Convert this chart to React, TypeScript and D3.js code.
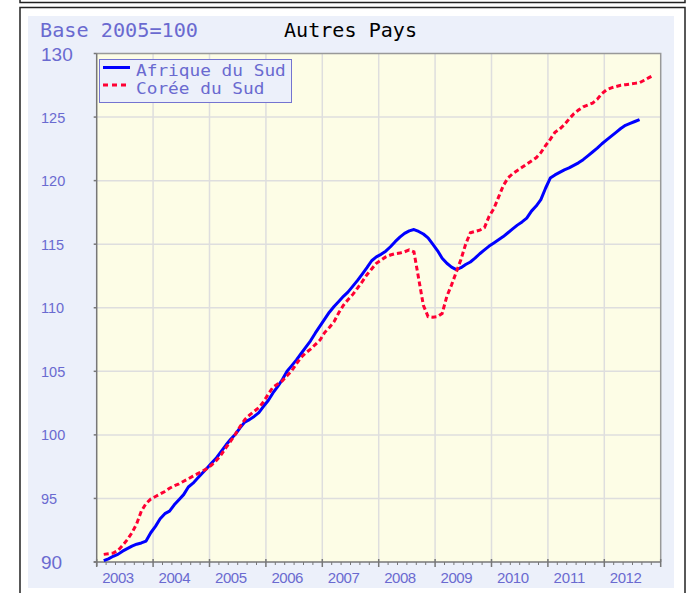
import React, { useRef, useEffect } from "react";
import * as d3 from "d3";

// monthly index values, first point = Feb 2003
const firstYear = 2003;
const firstMonth = 2;

const afriqueDuSud = [
  // 2003 (Feb-Dec)
  90.1, 90.25, 90.45, 90.6, 90.85, 91.05, 91.25, 91.4, 91.5, 91.65, 92.3,
  // 2004
  92.8, 93.4, 93.8, 94.0, 94.5, 94.9, 95.3, 95.9, 96.2, 96.6, 97.0, 97.4,
  // 2005
  97.8, 98.2, 98.7, 99.2, 99.65, 100.05, 100.55, 101.0, 101.2, 101.45, 101.75, 102.25,
  // 2006
  102.7, 103.3, 103.8, 104.35, 105.0, 105.45, 105.9, 106.4, 106.9, 107.4, 108.0, 108.55,
  // 2007
  109.1, 109.65, 110.1, 110.5, 110.9, 111.25, 111.7, 112.15, 112.65, 113.15, 113.7, 114.0,
  // 2008
  114.2, 114.45, 114.8, 115.2, 115.55, 115.85, 116.05, 116.15, 116.0, 115.8, 115.5, 115.0,
  // 2009
  114.5, 113.9, 113.5, 113.2, 113.0, 113.15, 113.4, 113.6, 113.9, 114.25, 114.55, 114.85,
  // 2010
  115.1, 115.35, 115.6, 115.9, 116.2, 116.5, 116.75, 117.05, 117.6, 118.0, 118.5, 119.4,
  // 2011
  120.2, 120.45, 120.65, 120.85, 121.0, 121.2, 121.4, 121.65, 121.95, 122.25, 122.55, 122.9,
  // 2012 (Jan-Aug)
  123.2, 123.5, 123.8, 124.1, 124.35, 124.5, 124.65, 124.8,
];

const coreeDuSud = [
  // 2003 (Feb-Dec)
  90.6, 90.65, 90.7, 90.9, 91.3, 91.75, 92.3, 93.0, 94.0, 94.6, 94.95,
  // 2004
  95.15, 95.35, 95.55, 95.8, 96.0, 96.15, 96.35, 96.55, 96.75, 96.95, 97.15, 97.35,
  // 2005
  97.65, 98.0, 98.45, 99.0, 99.5, 100.05, 100.65, 101.2, 101.55, 101.85, 102.15, 102.6,
  // 2006
  103.2, 103.75, 104.0, 104.25, 104.65, 105.05, 105.6, 106.1, 106.45, 106.75, 107.1, 107.45,
  // 2007
  108.05, 108.45, 108.9, 109.6, 110.2, 110.65, 111.05, 111.55, 112.05, 112.6, 113.05, 113.5,
  // 2008
  113.75, 114.0, 114.15, 114.25, 114.3, 114.4, 114.55, 114.4, 112.3, 110.2, 109.3, 109.25,
  // 2009
  109.3, 109.55, 110.9, 111.8, 112.8, 113.8, 115.0, 115.9, 116.0, 116.1, 116.3, 117.2,
  // 2010
  117.8, 118.7, 119.6, 120.2, 120.55, 120.8, 121.05, 121.3, 121.55, 121.8, 122.2, 122.75,
  // 2011
  123.25, 123.8, 124.05, 124.4, 124.85, 125.25, 125.55, 125.8, 125.95, 126.1, 126.4, 126.85,
  // 2012 (Jan-Nov)
  127.15, 127.3, 127.4, 127.5, 127.55, 127.6, 127.65, 127.7, 127.9, 128.1, 128.3,
];

const years = [2003, 2004, 2005, 2006, 2007, 2008, 2009, 2010, 2011, 2012];
const yTicks = [90, 95, 100, 105, 110, 115, 120, 125, 130];
const seriesNames = ["Afrique du Sud", "Corée du Sud"];

const W = 690;
const H = 593;
const labelColor = "#6a6ad0";
const mono = "'DejaVu Sans Mono', monospace";
const sans = "'Liberation Sans', Arial, sans-serif";

// mid-month position as a decimal year
const monthPos = (i: number) =>
  firstYear + (firstMonth - 1 + i + 0.5) / 12;

function Chart() {
  const svgRef = useRef<SVGSVGElement>(null);

  useEffect(() => {
    const svg = d3.select(svgRef.current);
    svg.selectAll("*").remove();

    const left = 96.7,
      right = 660.7,
      top = 53.5,
      bottom = 562;

    const x = d3.scaleLinear().domain([2003, 2013]).range([left, right]);
    const y = d3.scaleLinear().domain([90, 130]).range([bottom, top]);

    // outer frames
    svg
      .append("rect")
      .attr("x", 20)
      .attr("y", -20)
      .attr("width", 665)
      .attr("height", 22.5)
      .attr("fill", "white")
      .attr("stroke", "#222")
      .attr("stroke-width", 1.5);
    svg
      .append("rect")
      .attr("x", 20)
      .attr("y", 7.5)
      .attr("width", 665)
      .attr("height", 600)
      .attr("fill", "white")
      .attr("stroke", "#222")
      .attr("stroke-width", 1.5);

    // panel
    svg
      .append("rect")
      .attr("x", 28)
      .attr("y", 16)
      .attr("width", 646)
      .attr("height", 572)
      .attr("fill", "#ecf0fa");

    // titles
    svg
      .append("text")
      .attr("x", 40)
      .attr("y", 37)
      .attr("font-family", mono)
      .attr("font-size", 19)
      .attr("fill", labelColor)
      .attr("textLength", 158)
      .attr("lengthAdjust", "spacingAndGlyphs")
      .text("Base 2005=100");
    svg
      .append("text")
      .attr("x", 284)
      .attr("y", 37)
      .attr("font-family", mono)
      .attr("font-size", 19)
      .attr("fill", "#000")
      .attr("textLength", 133)
      .attr("lengthAdjust", "spacingAndGlyphs")
      .text("Autres Pays");

    // plot background
    svg
      .append("rect")
      .attr("x", left)
      .attr("y", top)
      .attr("width", right - left)
      .attr("height", bottom - top)
      .attr("fill", "#fdfde6");

    const g = svg.append("g");

    // grid
    g.selectAll(".hgrid")
      .data(yTicks.slice(1, -1))
      .enter()
      .append("line")
      .attr("x1", left)
      .attr("x2", right)
      .attr("y1", (d) => y(d))
      .attr("y2", (d) => y(d))
      .attr("stroke", "#dedede")
      .attr("stroke-width", 1.5);

    g.selectAll(".vgrid")
      .data(years.slice(1))
      .enter()
      .append("line")
      .attr("x1", (d) => x(d))
      .attr("x2", (d) => x(d))
      .attr("y1", top)
      .attr("y2", bottom)
      .attr("stroke", "#dedede")
      .attr("stroke-width", 1.5);

    // plot border (top/right)
    g.append("path")
      .attr("d", `M${left},${top}H${right}V${bottom}`)
      .attr("fill", "none")
      .attr("stroke", "#999")
      .attr("stroke-width", 1.5);

    // axes
    g.append("line")
      .attr("x1", left - 3)
      .attr("x2", right)
      .attr("y1", bottom)
      .attr("y2", bottom)
      .attr("stroke", "#777")
      .attr("stroke-width", 1.5);
    g.append("line")
      .attr("x1", left)
      .attr("x2", left)
      .attr("y1", top)
      .attr("y2", bottom + 4)
      .attr("stroke", "#777")
      .attr("stroke-width", 1.5);

    // y ticks + labels
    g.selectAll(".ytick")
      .data(yTicks)
      .enter()
      .append("line")
      .attr("x1", left - 3)
      .attr("x2", left)
      .attr("y1", (d) => y(d))
      .attr("y2", (d) => y(d))
      .attr("stroke", "#777")
      .attr("stroke-width", 1.5);

    g.selectAll(".ylabel")
      .data(yTicks)
      .enter()
      .append("text")
      .attr("x", 41)
      .attr("y", (d) => y(d) + (d === 90 || d === 130 ? 7 : 5.5))
      .attr("font-family", sans)
      .attr("font-size", (d) => (d === 90 || d === 130 ? 19 : 14.5))
      .attr("fill", labelColor)
      .text((d) => d);

    // x ticks: major at each year, minor every two months
    const minor = d3.range(2003, 2013, 1 / 6).filter(
      (d) => Math.abs(d - Math.round(d)) > 0.01
    );
    g.selectAll(".xminor")
      .data(minor)
      .enter()
      .append("line")
      .attr("x1", (d) => x(d))
      .attr("x2", (d) => x(d))
      .attr("y1", bottom)
      .attr("y2", bottom + 3)
      .attr("stroke", "#777")
      .attr("stroke-width", 1);

    g.selectAll(".xmajor")
      .data([...years, 2013])
      .enter()
      .append("line")
      .attr("x1", (d) => x(d))
      .attr("x2", (d) => x(d))
      .attr("y1", bottom - 3)
      .attr("y2", bottom + 5)
      .attr("stroke", "#777")
      .attr("stroke-width", 1.5);

    g.selectAll(".xlabel")
      .data(years)
      .enter()
      .append("text")
      .attr("x", (d) => x(d) + 5.5)
      .attr("y", 583)
      .attr("font-family", sans)
      .attr("font-size", 15)
      .attr("fill", labelColor)
      .attr("textLength", 32)
      .text((d) => d);

    // lines
    const line = d3
      .line<number>()
      .x((_, i) => x(monthPos(i)))
      .y((d) => y(d));

    g.append("path")
      .datum(afriqueDuSud)
      .attr("d", line)
      .attr("fill", "none")
      .attr("stroke", "#0000ff")
      .attr("stroke-width", 3)
      .attr("stroke-linejoin", "round");

    g.append("path")
      .datum(coreeDuSud)
      .attr("d", line)
      .attr("fill", "none")
      .attr("stroke", "#ff0033")
      .attr("stroke-width", 3)
      .attr("stroke-dasharray", "5,3");

    // legend
    const legend = svg.append("g").attr("transform", "translate(99, 59)");
    legend
      .append("rect")
      .attr("x", 0.5)
      .attr("y", 0.5)
      .attr("width", 192)
      .attr("height", 43)
      .attr("fill", "#ecf0fa")
      .attr("stroke", "#7474d0")
      .attr("stroke-width", 1);

    const colors = ["#0000ff", "#ff0033"];
    seriesNames.forEach((name, i) => {
      legend
        .append("line")
        .attr("x1", 4)
        .attr("x2", 31)
        .attr("y1", 8.5 + i * 17.5)
        .attr("y2", 8.5 + i * 17.5)
        .attr("stroke", colors[i])
        .attr("stroke-width", 3)
        .attr("stroke-dasharray", i === 1 ? "5,4" : null);
      legend
        .append("text")
        .attr("x", 37)
        .attr("y", 16.5 + i * 18)
        .attr("font-family", mono)
        .attr("font-size", 15)
        .attr("fill", labelColor)
        .attr("textLength", name.length * 10.7)
        .attr("lengthAdjust", "spacingAndGlyphs")
        .text(name);
    });
  }, []);

  return (
    <svg
      ref={svgRef}
      width={W}
      height={H}
      style={{ position: "absolute", left: 0, top: 0, background: "white" }}
    />
  );
}

export default function App() {
  return <Chart />;
}
